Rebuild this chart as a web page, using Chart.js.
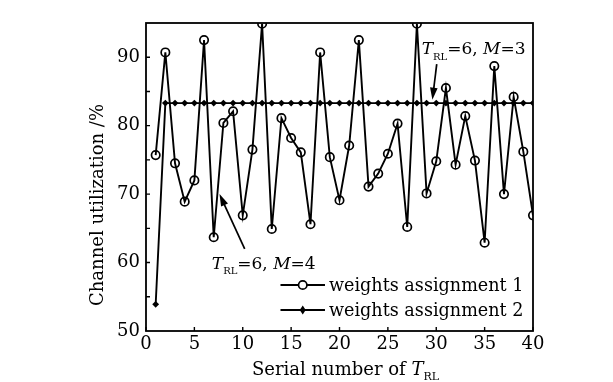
<!DOCTYPE html>
<html>
<head>
<meta charset="utf-8">
<script src="https://cdn.jsdelivr.net/npm/chart.js@4/dist/chart.umd.min.js"></script>
<style>
  html, body { margin: 0; padding: 0; background: #fff; }
  #wrap { width: 613px; height: 382px; position: relative; }
</style>
</head>
<body>
<div id="wrap"><canvas id="myChart"></canvas></div>
<script>
// Data
const serialNumbers = [1, 2, 3, 4, 5, 6, 7, 8, 9, 10, 11, 12, 13, 14, 15, 16, 17, 18, 19, 20,
                       21, 22, 23, 24, 25, 26, 27, 28, 29, 30, 31, 32, 33, 34, 35, 36, 37, 38, 39, 40];
const weights1 = [75.7, 90.7, 74.5, 68.9, 72.0, 92.5, 63.7, 80.4, 82.1, 66.9,
                  76.5, 94.9, 64.9, 81.1, 78.2, 76.1, 65.6, 90.7, 75.4, 69.1,
                  77.1, 92.5, 71.1, 73.0, 75.9, 80.3, 65.2, 94.9, 70.1, 74.8,
                  85.5, 74.3, 81.4, 74.9, 62.9, 88.7, 70.0, 84.2, 76.2, 66.9];
const weights2 = [53.9, 83.3, 83.3, 83.3, 83.3, 83.3, 83.3, 83.3, 83.3, 83.3,
                  83.3, 83.3, 83.3, 83.3, 83.3, 83.3, 83.3, 83.3, 83.3, 83.3,
                  83.3, 83.3, 83.3, 83.3, 83.3, 83.3, 83.3, 83.3, 83.3, 83.3,
                  83.3, 83.3, 83.3, 83.3, 83.3, 83.3, 83.3, 83.3, 83.3, 83.3];
const seriesNames = ['weights assignment 1', 'weights assignment 2'];
const xTicks = [0, 5, 10, 15, 20, 25, 30, 35, 40];
const yTicks = [50, 60, 70, 80, 90];

const FONT = '"DejaVu Serif", "Liberation Serif", serif';
const INK = '#000';

// Draw a line of text made of runs (italic / subscript pieces)
function drawRuns(ctx, runs, x, y, size) {
    let cx = x;
    runs.forEach(r => {
        const s = r.sub ? Math.round(size * 0.6) : size;
        ctx.font = (r.italic ? 'italic ' : '') + s + 'px ' + FONT;
        ctx.fillText(r.t, cx, r.sub ? y + size * 0.3 : y);
        cx += ctx.measureText(r.t).width;
    });
    return cx - x;
}

function runsWidth(ctx, runs, size) {
    let w = 0;
    runs.forEach(r => {
        const s = r.sub ? Math.round(size * 0.6) : size;
        ctx.font = (r.italic ? 'italic ' : '') + s + 'px ' + FONT;
        w += ctx.measureText(r.t).width;
    });
    return w;
}

function arrow(ctx, x1, y1, x2, y2) {
    const ang = Math.atan2(y2 - y1, x2 - x1);
    const len = 12, half = 3.8;
    ctx.beginPath();
    ctx.moveTo(x1, y1);
    ctx.lineTo(x2 - Math.cos(ang) * len * 0.8, y2 - Math.sin(ang) * len * 0.8);
    ctx.stroke();
    ctx.beginPath();
    ctx.moveTo(x2, y2);
    ctx.lineTo(x2 - Math.cos(ang) * len + Math.sin(ang) * half, y2 - Math.sin(ang) * len - Math.cos(ang) * half);
    ctx.lineTo(x2 - Math.cos(ang) * len - Math.sin(ang) * half, y2 - Math.sin(ang) * len + Math.cos(ang) * half);
    ctx.closePath();
    ctx.fill();
}

// Box, inward ticks, titles, annotations and legend
const decorPlugin = {
    id: 'decor',
    afterDatasetsDraw(chart) {
        const ctx = chart.ctx;
        const a = chart.chartArea;
        const xs = chart.scales.x, ys = chart.scales.y;
        ctx.save();
        ctx.strokeStyle = INK;
        ctx.fillStyle = INK;
        ctx.lineWidth = 1.8;
        ctx.strokeRect(a.left, a.top, a.right - a.left, a.bottom - a.top);

        // inward ticks
        ctx.lineWidth = 1.4;
        ctx.beginPath();
        xTicks.forEach(v => {
            const px = xs.getPixelForValue(v);
            ctx.moveTo(px, a.bottom);
            ctx.lineTo(px, a.bottom - 4);
        });
        for (let v = 55; v < 95; v += 5) {
            const py = ys.getPixelForValue(v);
            ctx.moveTo(a.left, py);
            ctx.lineTo(a.left + 4, py);
        }
        ctx.stroke();

        ctx.textBaseline = 'alphabetic';
        ctx.textAlign = 'left';

        // x title
        const xt = [{t: 'Serial number of '}, {t: 'T', italic: true}, {t: 'RL', sub: true}];
        const wx = runsWidth(ctx, xt, 18);
        drawRuns(ctx, xt, (a.left + a.right) / 2 - wx / 2 + 6, chart.height - 7, 18);

        // y title
        ctx.save();
        ctx.translate(103, a.bottom - 25);
        ctx.rotate(-Math.PI / 2);
        ctx.font = '18px ' + FONT;
        ctx.fillText('Channel utilization /%', 0, 0);
        ctx.restore();

        // annotations
        ctx.lineWidth = 1.7;
        const ann1 = [{t: 'T', italic: true}, {t: 'RL', sub: true}, {t: '=6, '}, {t: 'M', italic: true}, {t: '=3'}];
        drawRuns(ctx, ann1, xs.getPixelForValue(28.5), ys.getPixelForValue(90.4), 17);
        arrow(ctx, xs.getPixelForValue(30.05), ys.getPixelForValue(89.0),
                   xs.getPixelForValue(29.6), ys.getPixelForValue(83.8));
        const ann2 = [{t: 'T', italic: true}, {t: 'RL', sub: true}, {t: '=6, '}, {t: 'M', italic: true}, {t: '=4'}];
        drawRuns(ctx, ann2, xs.getPixelForValue(6.8), ys.getPixelForValue(59.1), 17);
        arrow(ctx, xs.getPixelForValue(10.2), ys.getPixelForValue(62.0),
                   xs.getPixelForValue(7.6), ys.getPixelForValue(70.0));

        // legend
        const lx1 = xs.getPixelForValue(13.9), lx2 = xs.getPixelForValue(18.5);
        const lm = (lx1 + lx2) / 2;
        [285, 310].forEach((ly, i) => {
            ctx.lineWidth = 1.9;
            ctx.beginPath();
            ctx.moveTo(lx1, ly);
            ctx.lineTo(lx2, ly);
            ctx.stroke();
            if (i === 0) {
                ctx.fillStyle = '#fff';
                ctx.lineWidth = 1.7;
                ctx.beginPath();
                ctx.arc(lm, ly, 4.2, 0, Math.PI * 2);
                ctx.fill();
                ctx.stroke();
                ctx.fillStyle = INK;
            } else {
                ctx.beginPath();
                ctx.moveTo(lm, ly - 4.5);
                ctx.lineTo(lm + 3, ly);
                ctx.lineTo(lm, ly + 4.5);
                ctx.lineTo(lm - 3, ly);
                ctx.closePath();
                ctx.fill();
            }
            ctx.font = '17.6px ' + FONT;
            ctx.fillText(seriesNames[i], lx2 + 4, ly + 6);
        });
        ctx.restore();
    }
};

const ctx = document.getElementById('myChart').getContext('2d');
window.myChart = new Chart(ctx, {
    type: 'line',
    data: {
        datasets: [
            {
                label: seriesNames[1],
                data: serialNumbers.map((s, i) => ({x: s, y: weights2[i]})),
                borderColor: INK,
                backgroundColor: INK,
                borderWidth: 1.9,
                pointStyle: 'rectRot',
                pointRadius: 3.4,
                pointBorderWidth: 0,
                tension: 0
            },
            {
                label: seriesNames[0],
                data: serialNumbers.map((s, i) => ({x: s, y: weights1[i]})),
                borderColor: INK,
                backgroundColor: 'rgba(255,255,255,0)',
                borderWidth: 1.9,
                pointStyle: 'circle',
                pointRadius: 4.2,
                pointBorderWidth: 1.7,
                pointBackgroundColor: 'rgba(255,255,255,0)',
                tension: 0
            }
        ]
    },
    options: {
        responsive: true,
        maintainAspectRatio: false,
        animation: false,
        layout: { padding: { top: 23, right: 80, left: 0, bottom: 0 } },
        plugins: { legend: { display: false }, tooltip: { enabled: false } },
        scales: {
            x: {
                type: 'linear',
                min: 0,
                max: 40,
                afterFit: s => { s.height = 51; },
                afterBuildTicks: s => { s.ticks = xTicks.map(v => ({value: v})); },
                grid: { display: false, drawTicks: false },
                border: { display: false },
                ticks: { color: INK, padding: 3, maxRotation: 0, font: { family: FONT, size: 18 } }
            },
            y: {
                min: 50,
                max: 95,
                afterFit: s => { s.width = 146; },
                afterBuildTicks: s => { s.ticks = yTicks.map(v => ({value: v})); },
                grid: { display: false, drawTicks: false },
                border: { display: false },
                ticks: { color: INK, padding: 6, font: { family: FONT, size: 18 } }
            }
        }
    },
    plugins: [decorPlugin]
});
</script>
</body>
</html>
